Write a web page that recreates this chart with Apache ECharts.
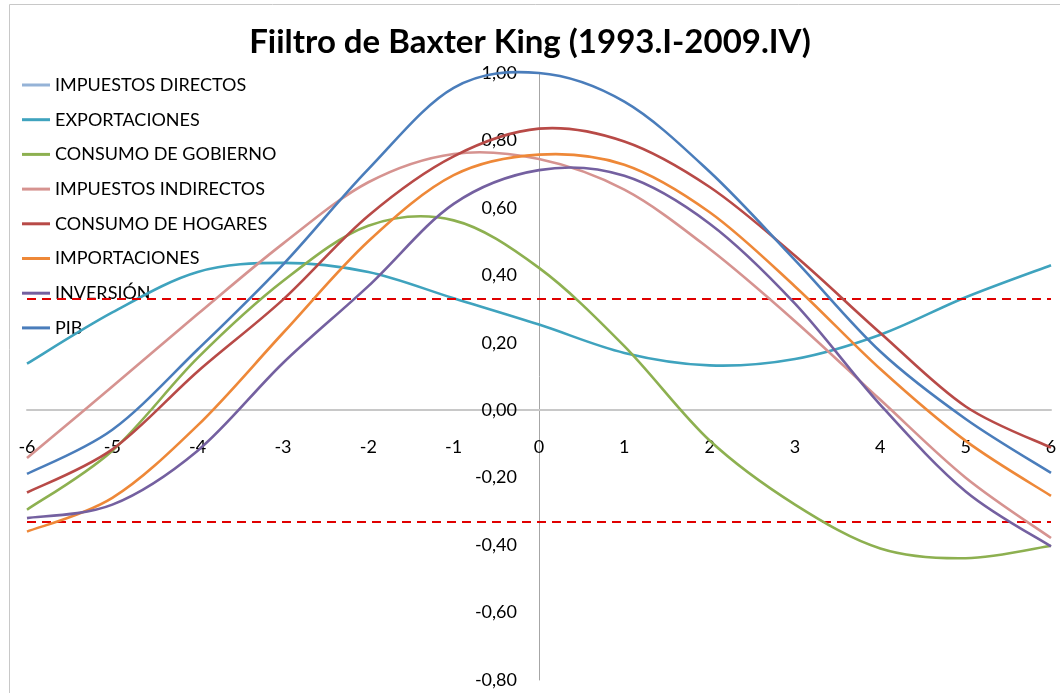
<!DOCTYPE html>
<html>
<head>
<meta charset="utf-8">
<script src="https://cdn.jsdelivr.net/npm/echarts@6/dist/echarts.min.js"></script>
<style>
html,body{margin:0;padding:0;background:#fff;}
#chart{width:1060px;height:693px;}
</style>
</head>
<body>
<div id="chart"></div>
<script>
// Lags (x axis categories)
const lags = [-6, -5, -4, -3, -2, -1, 0, 1, 2, 3, 4, 5, 6];

// Series values (correlation with PIB at each lag)
const impuestosDirectos = [];
const exportaciones = [0.138, 0.29, 0.41, 0.437, 0.41, 0.332, 0.254, 0.17, 0.133, 0.152, 0.224, 0.335, 0.43];
const consumoGobierno = [-0.295, -0.12, 0.155, 0.383, 0.547, 0.563, 0.422, 0.19, -0.09, -0.28, -0.41, -0.439, -0.402];
const impuestosIndirectos = [-0.142, 0.07, 0.285, 0.494, 0.676, 0.76, 0.745, 0.654, 0.478, 0.264, 0.031, -0.2, -0.379];
const consumoHogares = [-0.244, -0.116, 0.115, 0.328, 0.577, 0.753, 0.835, 0.797, 0.662, 0.458, 0.229, 0.011, -0.111];
const importaciones = [-0.36, -0.26, -0.045, 0.229, 0.501, 0.697, 0.758, 0.728, 0.587, 0.367, 0.122, -0.091, -0.254];
const inversion = [-0.32, -0.28, -0.12, 0.14, 0.368, 0.612, 0.712, 0.695, 0.553, 0.316, 0.016, -0.241, -0.404];
const pib = [-0.189, -0.058, 0.18, 0.432, 0.715, 0.956, 1.0, 0.915, 0.707, 0.445, 0.174, -0.026, -0.186];

// Confidence bands (dashed red lines)
const bandValues = [0.325, -0.325];

// Axis ticks
const xTicks = [-6, 6, 1];          // min, max, interval
const yTicks = [-0.8, 1.0, 0.2];    // min, max, interval

const seriesNames = ['IMPUESTOS DIRECTOS', 'EXPORTACIONES', 'CONSUMO DE GOBIERNO', 'IMPUESTOS INDIRECTOS', 'CONSUMO DE HOGARES', 'IMPORTACIONES', 'INVERSIÓN', 'PIB'];
const seriesValues = [impuestosDirectos, exportaciones, consumoGobierno, impuestosIndirectos, consumoHogares, importaciones, inversion, pib];
const seriesColors = ['#95B3D7', '#3FA3BE', '#8DB050', '#D69390', '#B84A47', '#EE8838', '#7460A0', '#4A7DBB'];

const FONT = 'Lato';
const W = 1060, H = 693;
const grid = { left: 27, right: 9, top: 73, bottom: 13 };

// Spreadsheet-style smoothed line (cardinal spline) drawn through the axes' own coordinate mapping
function smoothRenderer(values, color) {
  return function (params, api) {
    if (params.dataIndex !== 0) return null;
    const pts = values.map((v, j) => api.coord([lags[j], v]));
    let d = 'M' + pts[0][0] + ',' + pts[0][1];
    for (let i = 0; i < pts.length - 1; i++) {
      const p0 = pts[i - 1] || pts[i];
      const p1 = pts[i];
      const p2 = pts[i + 1];
      const p3 = pts[i + 2] || pts[i + 1];
      const c1x = p1[0] + (p2[0] - p0[0]) / 6, c1y = p1[1] + (p2[1] - p0[1]) / 6;
      const c2x = p2[0] - (p3[0] - p1[0]) / 6, c2y = p2[1] - (p3[1] - p1[1]) / 6;
      d += ' C' + c1x + ',' + c1y + ' ' + c2x + ',' + c2y + ' ' + p2[0] + ',' + p2[1];
    }
    return {
      type: 'path',
      shape: { pathData: d },
      style: { fill: 'none', stroke: color, lineWidth: 2.6, lineJoin: 'round' }
    };
  };
}

const series = seriesNames.map((name, i) => ({
  name: name,
  type: 'custom',
  coordinateSystem: 'cartesian2d',
  itemStyle: { color: seriesColors[i] },
  renderItem: smoothRenderer(seriesValues[i], seriesColors[i]),
  data: seriesValues[i].map((v, j) => [lags[j], v]),
  encode: { x: 0, y: 1 },
  z: 3 + i
}));

series.push({
  name: 'bandas',
  type: 'line',
  data: [],
  symbol: 'none',
  markLine: {
    silent: true,
    symbol: ['none', 'none'],
    label: { show: false },
    lineStyle: { color: '#E00000', type: [9, 6], width: 2 },
    data: bandValues.map(v => ({ yAxis: v }))
  },
  z: 2
});

// axes cross at zero: shift axes from grid edges to the zero position
const plotW = W - grid.left - grid.right;
const plotH = H - grid.top - grid.bottom;
const yAxisOffset = -plotW * (0 - xTicks[0]) / (xTicks[1] - xTicks[0]);
const xAxisOffset = -plotH * (0 - yTicks[0]) / (yTicks[1] - yTicks[0]);

const chart = echarts.init(document.getElementById('chart'), null, { renderer: 'canvas' });
chart.setOption({
  animation: false,
  backgroundColor: '#fff',
  title: {
    text: 'Fiiltro de Baxter King (1993.I-2009.IV)',
    left: 'center',
    top: 21,
    textStyle: { fontFamily: FONT, fontWeight: 'bold', fontSize: 33, color: '#000' }
  },
  graphic: [{
    type: 'rect',
    shape: { x: 9.5, y: 4.5, width: 1200, height: 800 },
    style: { fill: 'none', stroke: '#C8C8C8', lineWidth: 1 },
    silent: true,
    z: -10
  }],
  legend: {
    data: seriesNames.map(n => ({ name: n, icon: 'path://M0,0 L28,0 L28,3 L0,3 Z' })),
    orient: 'vertical',
    left: 22,
    top: 75,
    padding: 0,
    itemWidth: 28,
    itemHeight: 3,
    itemGap: 14.7,
    textStyle: { fontFamily: FONT, fontSize: 18, color: '#000', lineHeight: 20 },
    selectedMode: false
  },
  grid: { left: grid.left, right: grid.right, top: grid.top, bottom: grid.bottom, containLabel: false, outerBoundsMode: 'none' },
  xAxis: {
    type: 'value',
    min: xTicks[0],
    max: xTicks[1],
    interval: xTicks[2],
    position: 'bottom',
    offset: xAxisOffset,
    axisLine: { onZero: false, lineStyle: { color: '#C8C8C8', width: 2 } },
    axisTick: { show: false },
    splitLine: { show: false },
    axisLabel: { margin: 28, fontFamily: FONT, fontSize: 18, color: '#000' }
  },
  yAxis: {
    type: 'value',
    min: yTicks[0],
    max: yTicks[1],
    interval: yTicks[2],
    position: 'left',
    offset: yAxisOffset,
    axisLine: { show: true, onZero: false, lineStyle: { color: '#A6A6A6', width: 1 } },
    axisTick: { show: false },
    splitLine: { show: false },
    axisLabel: {
      margin: 22,
      fontFamily: FONT, fontSize: 18, color: '#000',
      formatter: v => v.toFixed(2).replace('.', ',')
    }
  },
  series: series
});
</script>
</body>
</html>
